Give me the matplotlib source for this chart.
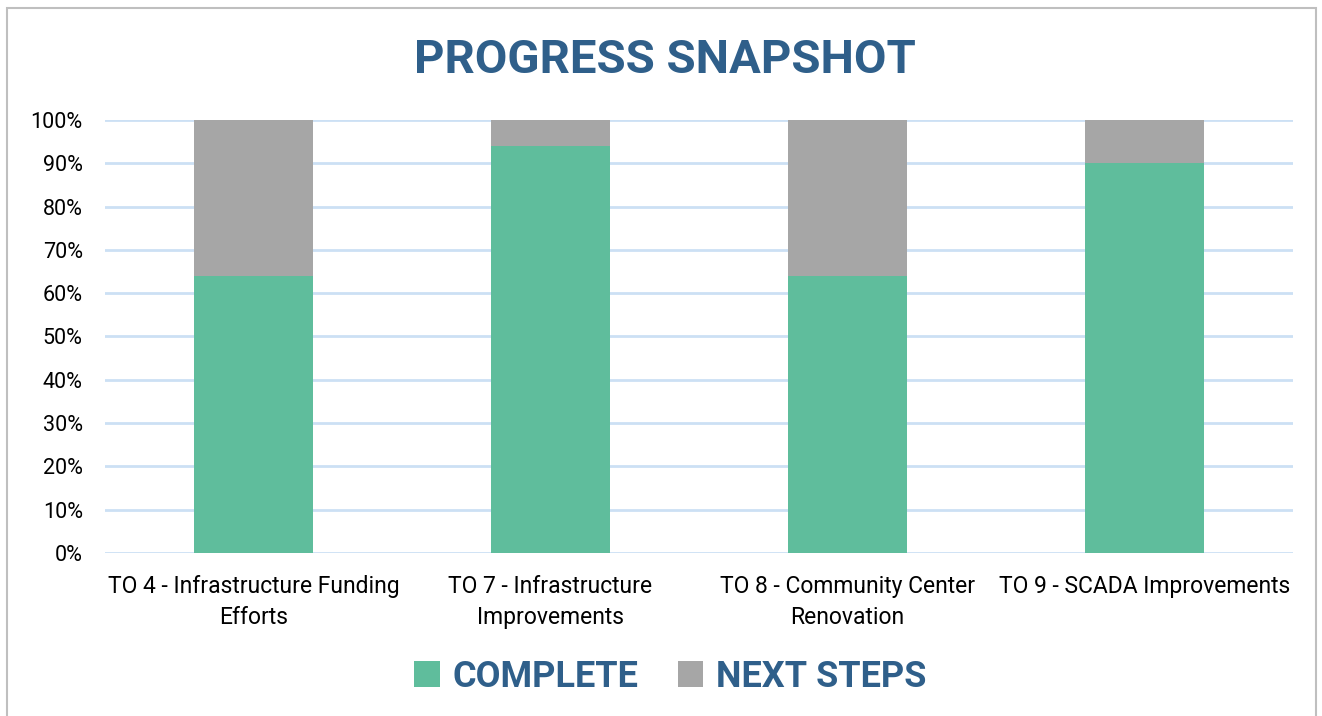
import numpy as np
import matplotlib.pyplot as plt
from matplotlib.patches import Rectangle
from matplotlib.ticker import PercentFormatter

categories = ['TO 4 - Infrastructure Funding\nEfforts',
              'TO 7 - Infrastructure\nImprovements',
              'TO 8 - Community Center\nRenovation',
              'TO 9 - SCADA Improvements']
complete = [0.64, 0.94, 0.64, 0.90]
next_steps = [0.36, 0.06, 0.36, 0.10]

green = '#5FBD9C'
gray = '#A6A6A6'
blue = '#2F5F8A'
font = ['Roboto', 'DejaVu Sans']
plt.rcParams['font.family'] = font

fig = plt.figure(figsize=(13.22, 7.16), dpi=100)
ax = fig.add_axes([0.0794, 0.2277, 0.8987, 0.6047])

x = np.arange(len(categories))
ax.bar(x, complete, width=0.4, color=green, label='COMPLETE', zorder=3)
ax.bar(x, next_steps, width=0.4, bottom=complete, color=gray, label='NEXT STEPS', zorder=3)

ax.set_xlim(-0.5, len(categories) - 0.5)
ax.set_ylim(0, 1)
ax.set_yticks(np.arange(0, 1.01, 0.1))
ax.yaxis.set_major_formatter(PercentFormatter(1.0, decimals=0))
ax.set_xticks(x)
ax.set_xticklabels(categories, fontsize=16.5, linespacing=1.45)
ax.tick_params(axis='y', labelsize=15.5, length=0, pad=16)
ax.tick_params(axis='x', length=0, pad=16)
ax.grid(axis='y', color='#CCE0F4', linewidth=2, zorder=0)
for s in ax.spines.values():
    s.set_visible(False)

fig.suptitle('PROGRESS SNAPSHOT', x=0.503, y=0.947, fontsize=34,
             fontweight='bold', color=blue)

leg = fig.legend(loc='center', bbox_to_anchor=(0.507, 0.055), ncol=2,
                 frameon=False, prop={'size': 26, 'weight': 'bold', 'family': font},
                 handlelength=0.7, handleheight=0.7, handletextpad=0.35,
                 columnspacing=1.1)
for t in leg.get_texts():
    t.set_color(blue)

fig.patches.append(Rectangle((0.0053, -0.01), 0.9905, 0.999, transform=fig.transFigure,
                             fill=False, edgecolor='#BFBFBF', linewidth=1.5))

plt.savefig('out.png', dpi=100)
